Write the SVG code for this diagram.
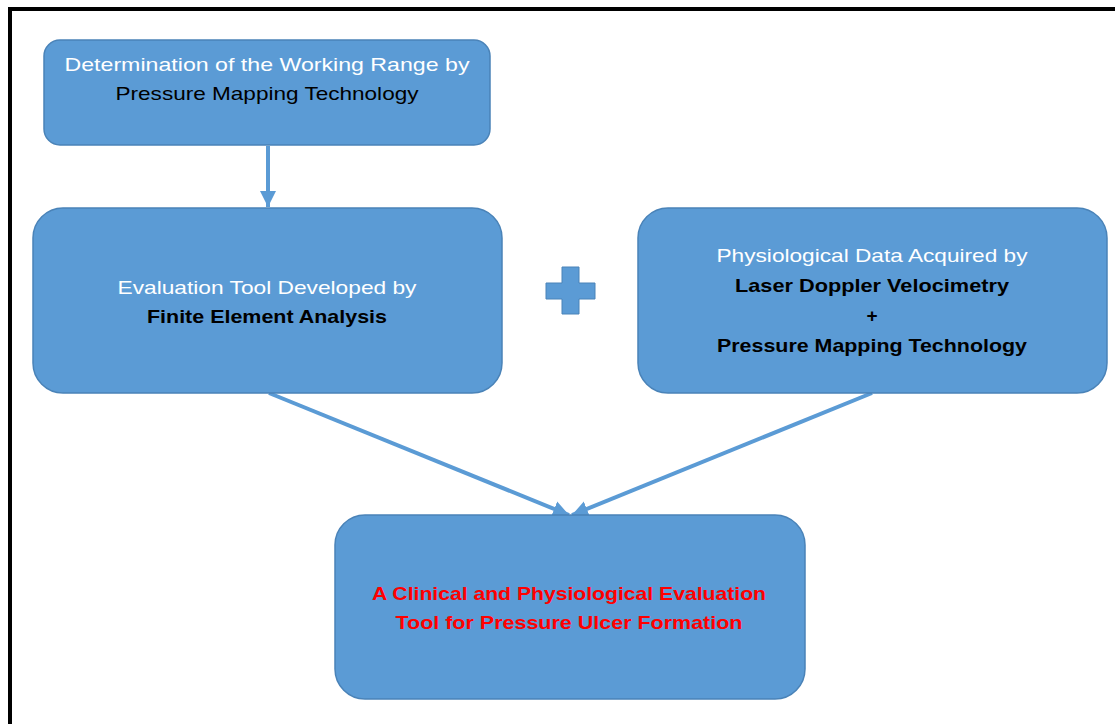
<svg xmlns="http://www.w3.org/2000/svg" width="1115" height="724" viewBox="0 0 1115 724">
<style>
.box{fill:#5B9BD5;stroke:#4A83B8;stroke-width:1.5}
.t{font-family:"Liberation Sans",Arial,sans-serif;font-size:19px;text-anchor:middle}
.w{fill:#FFFFFF}
.b{fill:#000000;font-weight:bold}
.r{fill:#FF0000;font-weight:bold}
.conn{stroke:#5B9BD5;stroke-width:4;fill:none}
</style>
<defs>
<marker id="ah" markerUnits="userSpaceOnUse" markerWidth="18" markerHeight="18" refX="16" refY="8" orient="auto" viewBox="0 0 18 16">
<path d="M0,0 L16,8 L0,16 Z" fill="#5B9BD5"/>
</marker>
</defs>
<rect width="1115" height="724" fill="#FFFFFF"/>
<g id="frame" fill="#000000">
<rect x="8" y="7" width="1107" height="4"/>
<rect x="8" y="7" width="4" height="717"/>
</g>
<g id="connectors">
<line class="conn" x1="268" y1="146" x2="268" y2="207" marker-end="url(#ah)"/>
<line class="conn" x1="269" y1="393" x2="569" y2="515" marker-end="url(#ah)"/>
<line class="conn" x1="872" y1="393" x2="572" y2="515" marker-end="url(#ah)"/>
</g>
<g id="node1">
<rect class="box" x="44" y="40" width="446" height="105" rx="16"/>
<text class="t w" x="267" y="71" textLength="405" lengthAdjust="spacingAndGlyphs">Determination of the Working Range by</text>
<text class="t" x="267" y="100" fill="#000000" textLength="303" lengthAdjust="spacingAndGlyphs">Pressure Mapping Technology</text>
</g>
<g id="node2">
<rect class="box" x="33" y="208" width="469" height="185" rx="30"/>
<text class="t w" x="267" y="294" textLength="299" lengthAdjust="spacingAndGlyphs">Evaluation Tool Developed by</text>
<text class="t b" x="267" y="323" textLength="240" lengthAdjust="spacingAndGlyphs">Finite Element Analysis</text>
</g>
<g id="plus">
<path d="M562,267 H579 V283 H595 V299 H579 V314 H562 V299 H546 V283 H562 Z" fill="#5B9BD5" stroke="#4A83B8" stroke-width="1"/>
</g>
<g id="node3">
<rect class="box" x="638" y="208" width="469" height="185" rx="30"/>
<text class="t w" x="872" y="262" textLength="311" lengthAdjust="spacingAndGlyphs">Physiological Data Acquired by</text>
<text class="t b" x="872" y="292" textLength="274" lengthAdjust="spacingAndGlyphs">Laser Doppler Velocimetry</text>
<text class="t b" x="872" y="322">+</text>
<text class="t b" x="872" y="352" textLength="310" lengthAdjust="spacingAndGlyphs">Pressure Mapping Technology</text>
</g>
<g id="node4">
<rect class="box" x="335" y="515" width="470" height="184" rx="30"/>
<text class="t r" x="569" y="600" textLength="394" lengthAdjust="spacingAndGlyphs">A Clinical and Physiological Evaluation</text>
<text class="t r" x="569" y="629" textLength="347" lengthAdjust="spacingAndGlyphs">Tool for Pressure Ulcer Formation</text>
</g>
</svg>
